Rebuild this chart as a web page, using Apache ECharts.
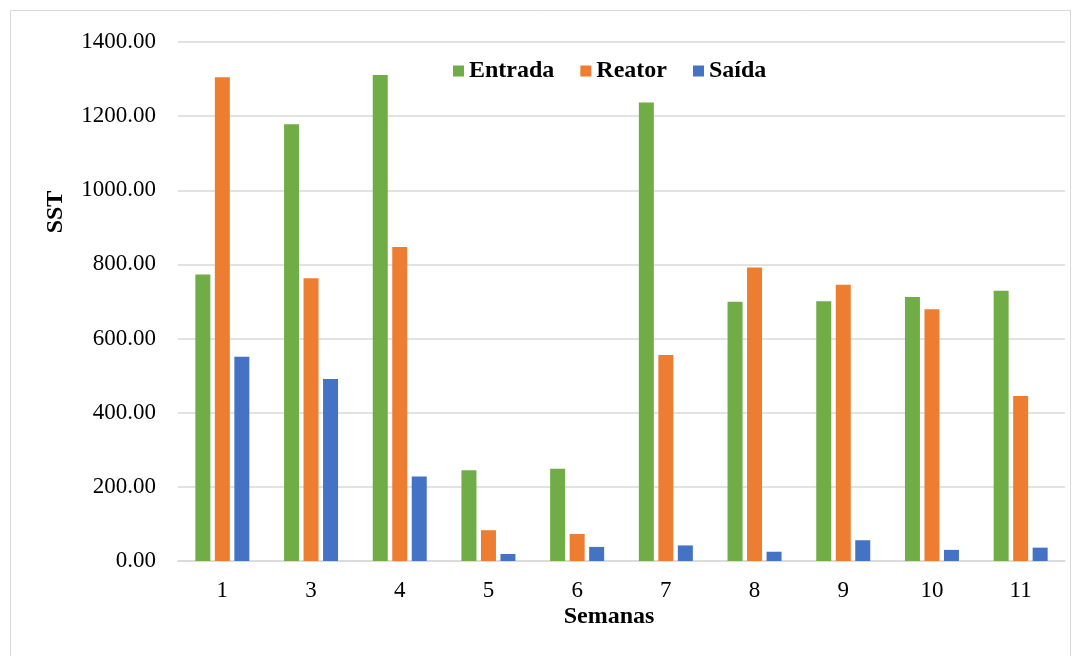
<!DOCTYPE html>
<html>
<head>
<meta charset="utf-8">
<script src="https://cdn.jsdelivr.net/npm/echarts@6/dist/echarts.min.js"></script>
<style>
html,body{margin:0;padding:0;background:#fff;}
#chart{width:1081px;height:656px;}
</style>
</head>
<body>
<div id="chart"></div>
<script>
var categories = ['1','3','4','5','6','7','8','9','10','11'];
var entrada = [773, 1178, 1311, 245, 249, 1237, 699, 701, 712, 729];
var reator  = [1305, 763, 847, 83, 73, 556, 792, 745, 679, 445];
var saida   = [551, 491, 228, 19, 38, 42, 25, 56, 30, 36];
var yTicks = { min: 0, max: 1400, interval: 200 };
var seriesNames = ['Entrada', 'Reator', 'Saída'];
var colors = ['#70AD47', '#ED7D31', '#4472C4'];

var FONT = "'Liberation Serif', 'Times New Roman', serif";
var chart = echarts.init(document.getElementById('chart'), null, {renderer: 'canvas'});
var values = [entrada, reator, saida];
chart.setOption({
  animation: false,
  backgroundColor: '#fff',
  textStyle: { fontFamily: FONT },
  graphic: [
    { type: 'rect', shape: { x: 10.5, y: 10.5, width: 1060, height: 700 }, style: { fill: 'none', stroke: '#d9d9d9', lineWidth: 1 }, silent: true },
    { type: 'text', x: 609, y: 617, style: { text: 'Semanas', fontFamily: FONT, fontSize: 24, fontWeight: 'bold', fill: '#000', textAlign: 'center', textVerticalAlign: 'middle' } },
    { type: 'text', x: 56, y: 212, rotation: Math.PI / 2, style: { text: 'SST', fontFamily: FONT, fontSize: 24, fontWeight: 'bold', fill: '#000', textAlign: 'center', textVerticalAlign: 'middle' } }
  ],
  legend: {
    left: 453, top: 59, padding: 0,
    itemWidth: 11, itemHeight: 11, itemGap: 26,
    icon: 'rect',
    textStyle: { fontFamily: FONT, fontSize: 24, fontWeight: 'bold', color: '#000' },
    data: seriesNames
  },
  grid: { left: 178, right: 16, top: 42, bottom: 95, containLabel: false },
  xAxis: {
    type: 'category',
    data: categories,
    axisLine: { show: true, lineStyle: { color: '#d9d9d9', width: 1.5 } },
    axisTick: { show: false },
    axisLabel: { fontFamily: FONT, fontSize: 23, color: '#000', margin: 18 }
  },
  yAxis: {
    type: 'value',
    min: yTicks.min, max: yTicks.max, interval: yTicks.interval,
    axisLine: { show: false },
    axisTick: { show: false },
    splitLine: { lineStyle: { color: '#d9d9d9', width: 1.5 } },
    axisLabel: { fontFamily: FONT, fontSize: 23, color: '#000', margin: 22, formatter: function (v) { return v.toFixed(2); } }
  },
  series: seriesNames.map(function (n, i) {
    return {
      name: n, type: 'bar', data: values[i],
      barWidth: 15, barGap: '30%',
      itemStyle: { color: colors[i] }
    };
  })
});
</script>
</body>
</html>
